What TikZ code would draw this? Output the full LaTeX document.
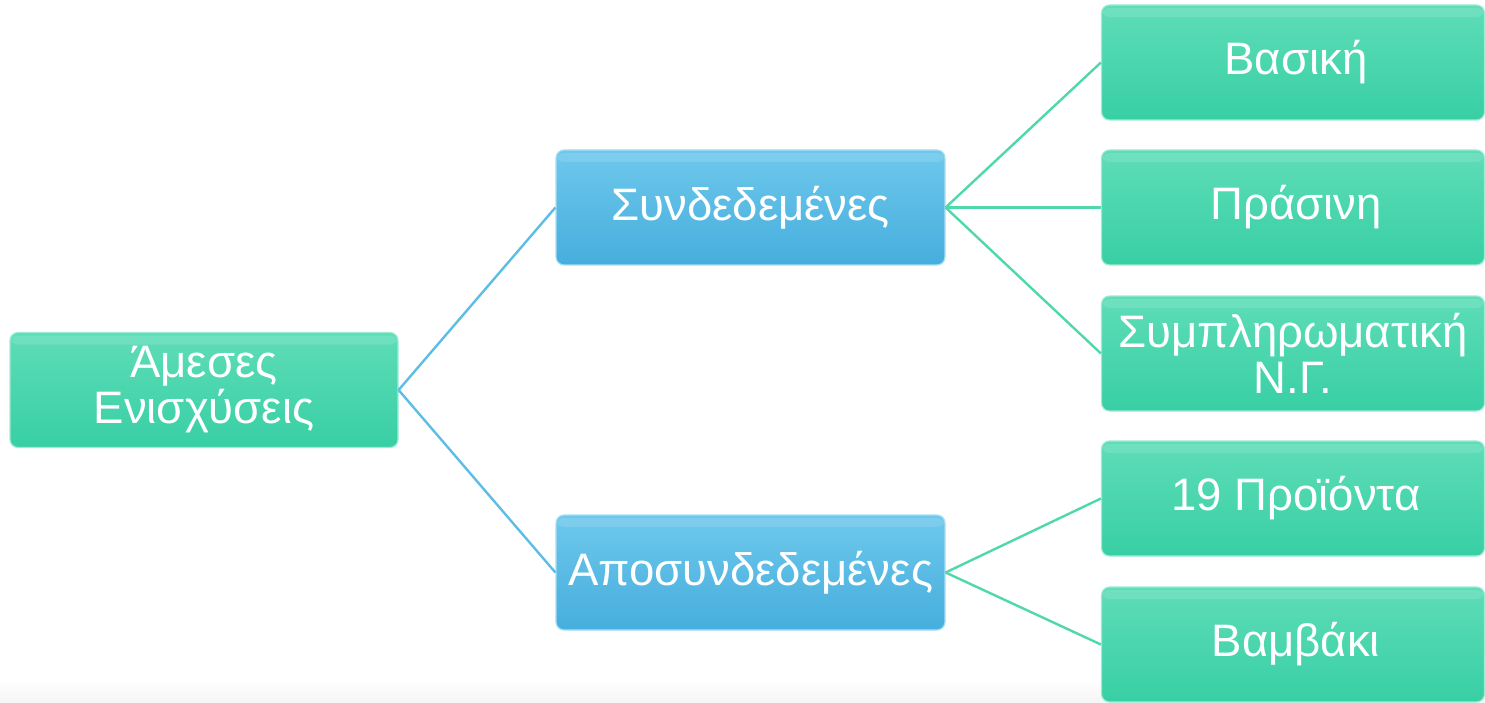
\documentclass[tikz,border=0pt]{standalone}
\usepackage{fontspec}
\setmainfont{Liberation Sans}
\definecolor{gtop}{HTML}{5EDDB8}
\definecolor{gbot}{HTML}{38CFA4}
\definecolor{btop}{HTML}{6EC8EC}
\definecolor{bbot}{HTML}{46AEDD}
\definecolor{gline}{HTML}{4FD8AA}
\definecolor{bline}{HTML}{5DBDE6}
\tikzset{
  boxbase/.style={rectangle, rounded corners=8pt, minimum height=115pt, text=white,
    font=\fontsize{45.5}{46}\selectfont, align=center, inner sep=0pt, line width=1.2pt,
    path picture={\fill[white,opacity=0.12] ([yshift=-3pt]path picture bounding box.north west) rectangle ([yshift=-12pt]path picture bounding box.north east);}},
  gbox/.style={boxbase, top color=gtop, bottom color=gbot, draw=gtop!60!white},
  bbox/.style={boxbase, top color=btop, bottom color=bbot, draw=btop!60!white},
  gconn/.style={draw=gline, line width=2.4pt},
  bconn/.style={draw=bline, line width=2.4pt}
}
\begin{document}
\begin{tikzpicture}[x=1pt,y=-1pt]
\useasboundingbox (0,0) rectangle (1485,703);
\shade[top color=white, bottom color=black!4] (0,680) rectangle (1485,703);
\node[gbox, minimum width=388pt] (root) at (204,390) {Άμεσες\\Ενισχύσεις};
\node[bbox, minimum width=389pt] (syn) at (750.5,207.5) {Συνδεδεμένες};
\node[bbox, minimum width=389pt] (apo) at (750.5,572.5) {Αποσυνδεδεμένες};
\node[gbox, minimum width=383pt] (vas) at (1293,62.5) {\hspace*{6pt}Βασική};
\node[gbox, minimum width=383pt] (pra) at (1293,207.5) {\hspace*{6pt}Πράσινη};
\node[gbox, minimum width=383pt] (sym) at (1293,353.5) {Συμπληρωματική\\Ν.Γ.};
\node[gbox, minimum width=383pt] (pro) at (1293,498.5) {\hspace*{6pt}19 Προϊόντα};
\node[gbox, minimum width=383pt] (vam) at (1293,644.5) {\hspace*{6pt}Βαμβάκι};
\draw[bconn] (root.east) -- (syn.west);
\draw[bconn] (root.east) -- (apo.west);
\draw[gconn] (syn.east) -- (vas.west);
\draw[gconn] (syn.east) -- (pra.west);
\draw[gconn] (syn.east) -- (sym.west);
\draw[gconn] (apo.east) -- (pro.west);
\draw[gconn] (apo.east) -- (vam.west);
\end{tikzpicture}
\end{document}
